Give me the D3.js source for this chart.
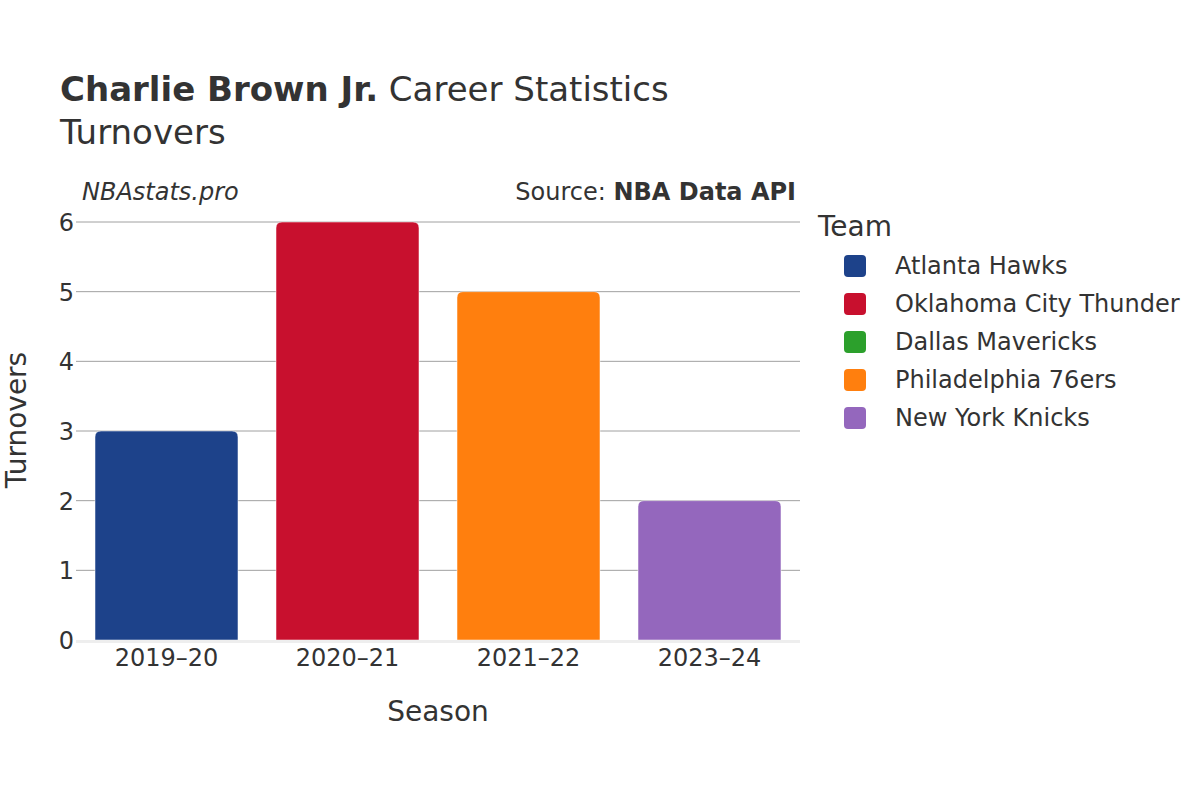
<!DOCTYPE html>
<html>
<head>
<meta charset="utf-8">
<script src="https://cdn.jsdelivr.net/npm/d3@7"></script>
<style>
  body { margin: 0; background: #fff; }
  text { font-family: "DejaVu Sans", sans-serif; fill: #333; }
</style>
</head>
<body>
<div id="wrapper"></div>
<script>
const seasons = ["2019–20", "2020–21", "2021–22", "2023–24"]
const turnovers = [3, 6, 5, 2]
const seasonTeams = ["Atlanta Hawks", "Oklahoma City Thunder", "Philadelphia 76ers", "New York Knicks"]
const teams = ["Atlanta Hawks", "Oklahoma City Thunder", "Dallas Mavericks", "Philadelphia 76ers", "New York Knicks"]
const teamColors = ["#1d428a", "#c8102e", "#2ca02c", "#ff7f0e", "#9467bd"]
const yTicks = [0, 1, 2, 3, 4, 5, 6]

const dimensions = {
  width: 1200,
  height: 800,
  margin: { top: 222, right: 400, bottom: 160, left: 76 },
}
dimensions.boundedWidth = dimensions.width - dimensions.margin.left - dimensions.margin.right
dimensions.boundedHeight = dimensions.height - dimensions.margin.top - dimensions.margin.bottom

const svg = d3.select("#wrapper")
  .append("svg")
  .attr("width", dimensions.width)
  .attr("height", dimensions.height)

// titles
const title = svg.append("text")
  .attr("x", 60)
  .attr("y", 101)
  .style("font-size", "34px")
title.append("tspan").style("font-weight", "bold").text("Charlie Brown Jr.")
title.append("tspan").text(" Career Statistics")
svg.append("text")
  .attr("x", 60)
  .attr("y", 144)
  .style("font-size", "34px")
  .text("Turnovers")

svg.append("text")
  .attr("x", 82)
  .attr("y", 200)
  .style("font-size", "24px")
  .style("font-style", "italic")
  .text("NBAstats.pro")
const src = svg.append("text")
  .attr("x", 796)
  .attr("y", 200)
  .attr("text-anchor", "end")
  .style("font-size", "24px")
src.append("tspan").text("Source: ")
src.append("tspan").style("font-weight", "bold").text("NBA Data API")

const bounds = svg.append("g")
  .attr("transform", `translate(${dimensions.margin.left},${dimensions.margin.top})`)

const xScale = d3.scaleBand()
  .domain(seasons)
  .range([0, dimensions.boundedWidth])
  .paddingInner(0.21)
  .paddingOuter(0.105)

const yScale = d3.scaleLinear()
  .domain([0, 6])
  .range([dimensions.boundedHeight, 0])

const colorScale = d3.scaleOrdinal().domain(teams).range(teamColors)

// gridlines
bounds.append("g")
  .selectAll("line")
  .data(yTicks.filter(d => d > 0))
  .join("line")
  .attr("x1", 0)
  .attr("x2", dimensions.boundedWidth)
  .attr("y1", d => yScale(d))
  .attr("y2", d => yScale(d))
  .attr("stroke", "#a0a0a0")
  .attr("stroke-width", 1)

// y axis labels
const yAxis = bounds.append("g")
  .call(d3.axisLeft(yScale).tickValues(yTicks).tickSize(0).tickPadding(2).tickFormat(d3.format("d")))
yAxis.select(".domain").remove()
yAxis.selectAll("text").style("font-size", "24px").attr("dy", "0.35em").attr("fill", "#333")

// bars with rounded top corners
const r = 6
const barPath = (x, y, w, h) => {
  return `M${x},${y + h} V${y + r} Q${x},${y} ${x + r},${y} H${x + w - r} Q${x + w},${y} ${x + w},${y + r} V${y + h} Z`
}
bounds.append("g")
  .selectAll("path")
  .data(seasons)
  .join("path")
  .attr("d", (d, i) => {
    const x = xScale(d)
    const y = yScale(turnovers[i])
    return barPath(x, y, xScale.bandwidth(), yScale(0) - y)
  })
  .attr("fill", (d, i) => colorScale(seasonTeams[i]))
  .attr("stroke", "#fff")
  .attr("stroke-opacity", 0.5)
  .attr("stroke-width", 1)

// zero line
bounds.append("line")
  .attr("x1", 0)
  .attr("x2", dimensions.boundedWidth)
  .attr("y1", yScale(0) + 1.5)
  .attr("y2", yScale(0) + 1.5)
  .attr("stroke", "#eee")
  .attr("stroke-width", 3)

// x axis
const xAxis = bounds.append("g")
  .attr("transform", `translate(0,${dimensions.boundedHeight})`)
  .call(d3.axisBottom(xScale).tickSize(0).tickPadding(9))
xAxis.select(".domain").remove()
xAxis.selectAll("text").style("font-size", "24px").attr("fill", "#333")

// axis titles
svg.append("text")
  .attr("x", dimensions.margin.left + dimensions.boundedWidth / 2)
  .attr("y", 721)
  .attr("text-anchor", "middle")
  .style("font-size", "28px")
  .text("Season")
svg.append("text")
  .attr("transform", `translate(26,420) rotate(-90)`)
  .attr("text-anchor", "middle")
  .style("font-size", "28px")
  .text("Turnovers")

// legend
const legend = svg.append("g").attr("transform", "translate(818,0)")
legend.append("text")
  .attr("x", 0)
  .attr("y", 236)
  .style("font-size", "28px")
  .text("Team")
const items = legend.selectAll("g.item")
  .data(teams)
  .join("g")
  .attr("class", "item")
  .attr("transform", (d, i) => `translate(0,${266 + i * 38})`)
items.append("rect")
  .attr("x", 26)
  .attr("y", -11)
  .attr("width", 22)
  .attr("height", 22)
  .attr("rx", 4)
  .attr("fill", d => colorScale(d))
items.append("text")
  .attr("x", 77)
  .attr("dy", "0.35em")
  .style("font-size", "24px")
  .text(d => d)
</script>
</body>
</html>
